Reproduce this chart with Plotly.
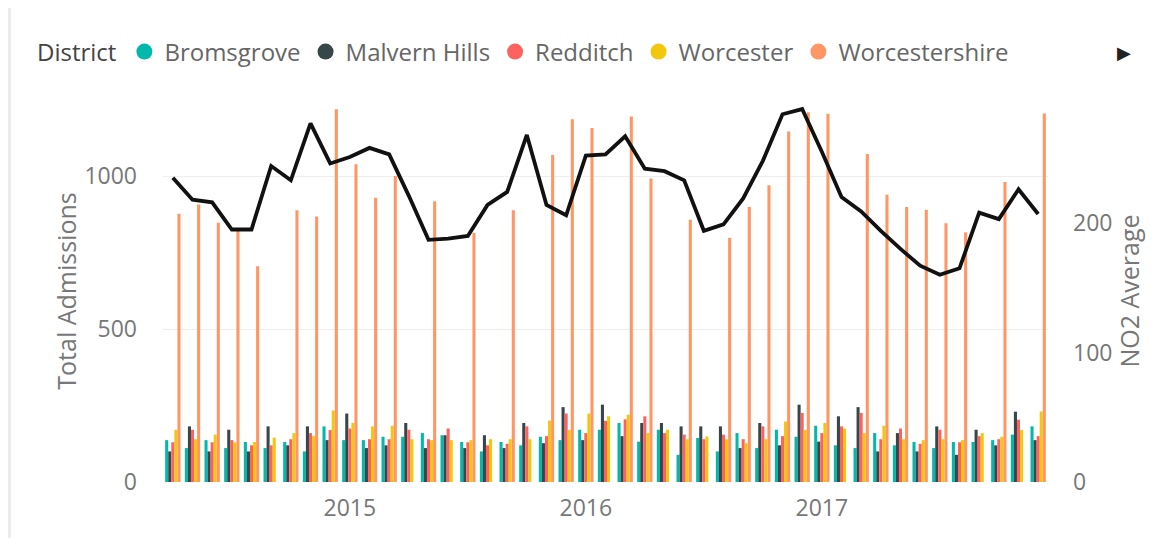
import plotly.graph_objects as go
import pandas as pd

# ---- data ----
months = [d.strftime("%Y-%m") for d in pd.date_range("2014-04-01", "2017-12-01", freq="MS")]
year_ticks = ["2015-01", "2016-01", "2017-01"]
year_labels = ["2015", "2016", "2017"]

bromsgrove = [137, 111, 137, 111, 131, 111, 131, 100, 182, 137, 137, 148, 148, 160, 153,
              131, 100, 131, 120, 148, 137, 171, 171, 193, 132, 171, 89, 144, 100, 160,
              111, 171, 148, 184, 120, 111, 160, 120, 131, 111, 131, 131, 137, 155, 182]
malvern_hills = [100, 182, 100, 171, 100, 182, 120, 182, 137, 224, 111, 120, 193, 111, 153,
                 111, 153, 111, 193, 127, 245, 137, 253, 150, 193, 193, 182, 182, 182, 111,
                 193, 120, 253, 132, 215, 245, 100, 160, 100, 182, 89, 171, 120, 230, 137]
redditch = [130, 171, 130, 137, 120, 120, 140, 160, 170, 175, 140, 140, 171, 140, 175,
            130, 120, 125, 182, 150, 224, 160, 200, 205, 215, 160, 155, 140, 155, 140,
            182, 150, 226, 160, 182, 226, 140, 175, 125, 171, 130, 150, 140, 204, 150]
worcester = [171, 140, 155, 130, 131, 145, 160, 150, 234, 193, 182, 184, 140, 137, 137,
             137, 140, 140, 140, 201, 170, 224, 215, 220, 160, 171, 140, 149, 140, 127,
             140, 198, 170, 193, 175, 160, 184, 140, 137, 140, 137, 160, 148, 170, 231]
worcestershire = [878, 908, 848, 829, 706, None, 889, 869, 1220, 1040, 930, 1001, None, 919, None,
                  815, None, 889, None, 1070, 1187, 1158, None, 1196, 993, None, 858, None, 799, 900,
                  971, 1147, 1210, 1205, None, 1073, 940, 900, 891, 847, 817, None, 982, None, 1206]
no2_average = [235, 218, 216, 195, 195, 244, 233, 277, 246, 251, 258, 253, 221, 187, 188,
               190, 214, 224, 268, 214, 206, 252, 253, 267, 242, 240, 233, 194, 199, 219,
               248, 284, 288, 255, 220, 209, 194, 180, 167, 160, 165, 208, 203, 226, 207]

district_names = ["Bromsgrove", "Malvern Hills", "Redditch", "Worcester", "Worcestershire"]
district_values = [bromsgrove, malvern_hills, redditch, worcester, worcestershire]
district_colors = ["#01B8AA", "#374649", "#FD625E", "#F2C80F", "#FE9666"]

# ---- layout geometry (page body has an 8px margin) ----
W, H = 1152, 530
ML, MR, MT, MB = 155, 112, 92, 56
PW, PH = W - ML - MR, H - MT - MB

FONT = "Open Sans"
GREY = "#777777"

fig = go.Figure()

for name, vals, col in zip(district_names, district_values, district_colors):
    fig.add_trace(go.Bar(x=months, y=vals, name=name, marker=dict(color=col, line=dict(width=0)),
                         showlegend=False, yaxis="y"))

fig.add_trace(go.Scatter(x=months, y=no2_average, name="NO2 Average", mode="lines",
                         line=dict(color="#111111", width=3.8), yaxis="y2", showlegend=False))

# legend entries as circles
for name, col in zip(district_names, district_colors):
    fig.add_trace(go.Scatter(x=[None], y=[None], mode="markers", name=name,
                             marker=dict(symbol="circle", size=20, color=col), showlegend=True))

fig.update_layout(
    width=W, height=H,
    margin=dict(l=ML, r=MR, t=MT, b=MB, autoexpand=False),
    paper_bgcolor="white", plot_bgcolor="white",
    barmode="group", bargap=0.22, bargroupgap=0,
    font=dict(family=FONT, color=GREY, size=22),
    legend=dict(orientation="h", xref="container", yref="container",
                x=27 / W, y=1 - 44 / H, xanchor="left", yanchor="middle",
                font=dict(size=24, color="#666666", family=FONT),
                title=dict(text="District", font=dict(size=24, color="#444444", family=FONT)),
                itemsizing="trace", tracegroupgap=0, itemwidth=30,
                bgcolor="rgba(0,0,0,0)"),
    xaxis=dict(type="category", categoryorder="array", categoryarray=months,
               range=[-0.5, len(months) - 0.5],
               tickmode="array", tickvals=year_ticks, ticktext=year_labels,
               showgrid=False, showline=False, zeroline=False, ticks="",
               ticklabelstandoff=10,
               tickfont=dict(size=23, color=GREY, family=FONT)),
    yaxis=dict(range=[0, 1250], tickvals=[0, 500, 1000], showgrid=True,
               gridcolor="#EEEEEE", gridwidth=1, zeroline=False, showline=False,
               ticks="", ticklabelstandoff=25,
               tickfont=dict(size=23, color=GREY, family=FONT),
               title=dict(text="Total Admissions", standoff=0,
                          font=dict(size=25, color=GREY, family=FONT))),
    yaxis2=dict(range=[0, 295], tickvals=[0, 100, 200], overlaying="y", side="right",
                showgrid=False, zeroline=False, showline=False, ticks="",
                ticklabelstandoff=24,
                tickfont=dict(size=23, color=GREY, family=FONT),
                title=dict(text="NO2 Average", standoff=4,
                           font=dict(size=25, color=GREY, family=FONT))),
    shapes=[dict(type="rect", xref="paper", yref="paper",
                 x0=-ML / PW, x1=(3 - ML) / PW, y0=-MB / PH, y1=(H - MB) / PH,
                 fillcolor="#EBEBEB", line=dict(width=0), layer="below")],
    annotations=[dict(text="\u25B6", xref="paper", yref="paper",
                      x=(1116 - ML) / PW, y=(H - MB - 44) / PH,
                      xanchor="center", yanchor="middle",
                      showarrow=False, font=dict(size=18, color="#222222", family="DejaVu Sans"))],
)

fig.write_html("out.html")
